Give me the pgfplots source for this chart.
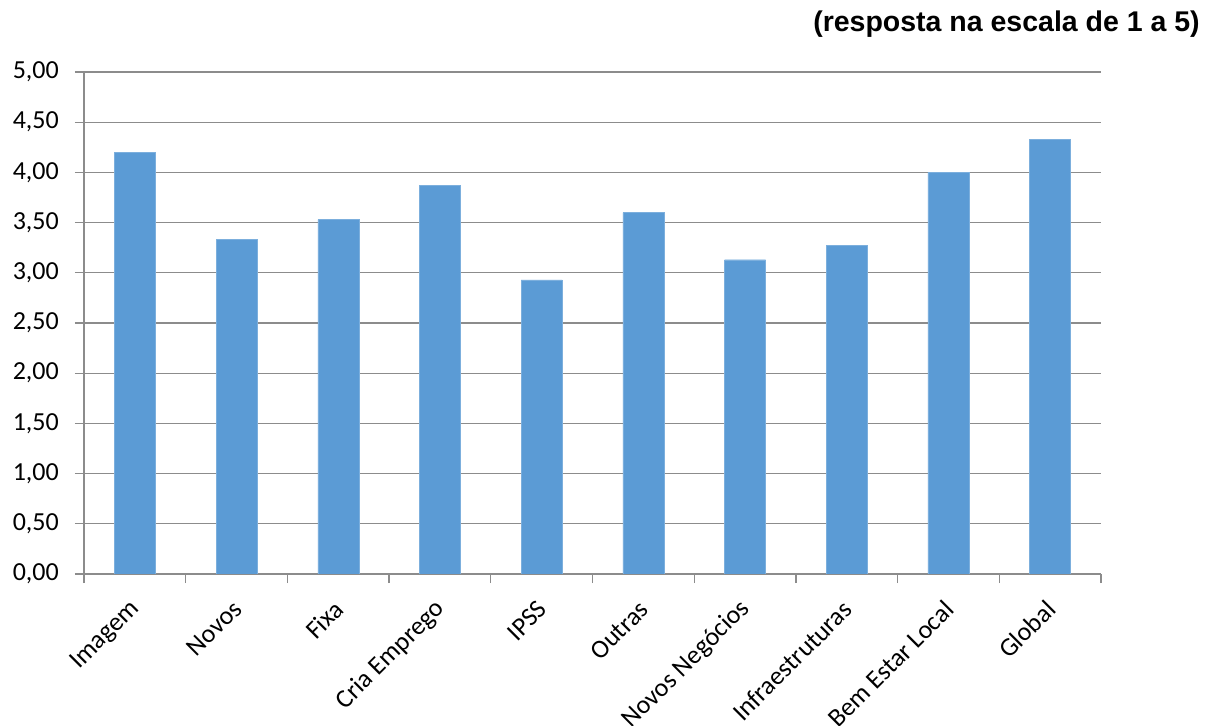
\documentclass[border=0pt]{standalone}
\usepackage{fontspec}
\setmainfont{Carlito}
\newfontfamily\titlefont{Liberation Sans}
\usepackage{pgfplots}
\pgfplotsset{compat=1.18}
\definecolor{barblue}{HTML}{5B9BD5}
\definecolor{gridgray}{HTML}{8C8C8C}

\begin{document}
\begin{tikzpicture}
\path[use as bounding box] (0,0) rectangle (1208bp,726bp);
\begin{axis}[
  at={(84bp,152bp)}, anchor=south west,
  scale only axis,
  width=1017bp, height=502bp,
  xmin=-0.5, xmax=9.5,
  ymin=0, ymax=5,
  ytick={0,0.5,...,5},
  ymajorgrids,
  grid style={gridgray, line width=1.3bp},
  axis x line*=bottom, axis y line*=left,
  axis line style={gridgray, line width=1.3bp, -},
  tick align=outside,
  major tick length=9bp,
  minor tick length=9bp,
  tick style={gridgray, line width=1.3bp},
  xtick={0,...,9},
  x tick style={draw=none},
  minor xtick={-0.5,0.5,...,9.5},
  minor x tick style={draw=gridgray, line width=1.3bp},
  xticklabels={Imagem,Novos,Fixa,Cria Emprego,IPSS,Outras,Novos Negócios,Infraestruturas,Bem Estar Local,Global},
  xticklabel style={xshift=1bp, yshift=-22bp, rotate=45, anchor=east, inner sep=0pt},
  yticklabel style={inner sep=0pt, xshift=-16bp},
  ticklabel style={font=\fontsize{26bp}{31bp}\selectfont},
  /pgf/number format/.cd, fixed, fixed zerofill, precision=2, use comma, assume math mode=true,
]
\addplot[ybar, bar width=41bp, fill=barblue, draw=barblue!80!white] coordinates {
  (0,4.20) (1,3.33) (2,3.53) (3,3.87) (4,2.93)
  (5,3.60) (6,3.13) (7,3.27) (8,4.00) (9,4.33)
};
\end{axis}
\node[anchor=base east, inner sep=0pt, font=\titlefont\bfseries\fontsize{28.5bp}{32bp}\selectfont]
  at (1200bp,694bp) {(resposta na escala de 1 a 5)};
\end{tikzpicture}
\end{document}
